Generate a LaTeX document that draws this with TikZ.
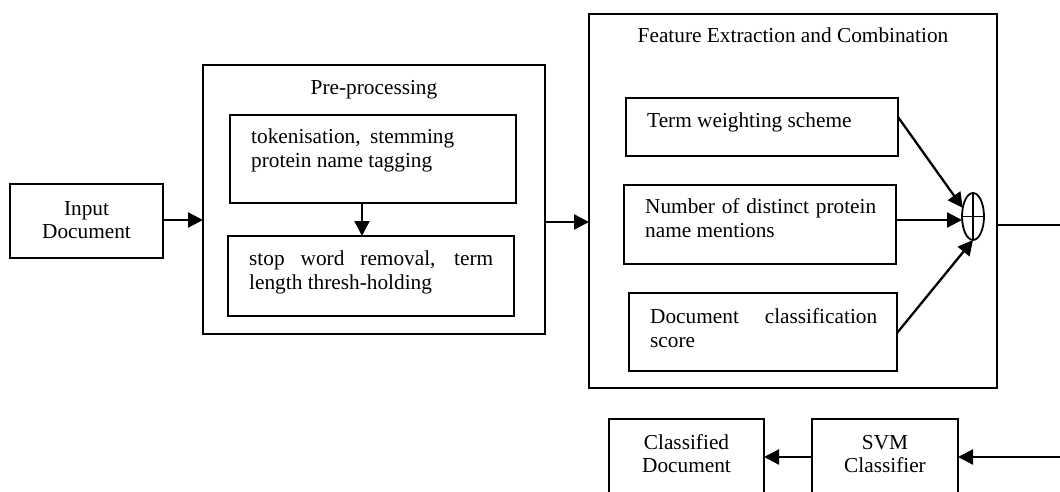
\documentclass[tikz,border=0pt]{standalone}
\usepackage{fontspec}
\setmainfont{Liberation Serif}
\usetikzlibrary{arrows.meta,shapes.geometric}
\begin{document}
\begin{tikzpicture}[x=1pt,y=-1pt,
  box/.style={draw,line width=1.9pt,inner sep=0pt,outer sep=0pt},
  lbl/.style={inner sep=0pt,font=\fontsize{21.3}{24.5}\selectfont,
    execute at begin node={\tolerance=9999\hyphenpenalty=10000\exhyphenpenalty=10000}},
  arr/.style={line width=2.3pt,-{Triangle[length=15pt,width=15pt]}}]
\clip (0,0) rectangle (1060,492);
\fill[white] (0,0) rectangle (1060,492);
% boxes
\node[box,minimum width=153pt,minimum height=74pt] (inp) at (86.5,221) {};
\node[box,minimum width=342pt,minimum height=269pt] (pre) at (374,199.5) {};
\node[box,minimum width=286pt,minimum height=88pt] (tok) at (373,159) {};
\node[box,minimum width=286pt,minimum height=80pt] (stop) at (371,276) {};
\node[box,minimum width=408pt,minimum height=374pt] (feat) at (793,201) {};
\node[box,minimum width=272pt,minimum height=58pt] (term) at (762,127) {};
\node[box,minimum width=272pt,minimum height=79pt] (num) at (760,224.5) {};
\node[box,minimum width=268pt,minimum height=78pt] (doc) at (763,332) {};
\node[draw,ellipse,line width=1.8pt,minimum width=22pt,minimum height=47pt,inner sep=0pt,outer sep=0pt] (sum) at (973,216.5) {};
\draw[line width=1.5pt] (sum.north) -- (sum.south) (sum.west) -- (sum.east);
\node[box,minimum width=155pt,minimum height=111pt] (cls) at (686.5,474.5) {};
\node[box,minimum width=146pt,minimum height=111pt] (svm) at (885,474.5) {};
% texts
\node[lbl,align=center,anchor=base] (tinp) at (86.5,238) {Input\\[-1.5pt]Document};
\node[lbl,anchor=base] (tpre) at (374,95) {Pre-processing};
\node[lbl,anchor=base west,text width=203pt,align=justify] (ttok) at (251,143) {tokenisation, stemming protein name tagging};
\node[lbl,anchor=base west,text width=244pt,align=justify] (tstop) at (249,265) {stop word removal, term length thresh-holding};
\node[lbl,anchor=base] (tfeat) at (793,43) {Feature Extraction and Combination};
\node[lbl,anchor=base west] (tterm) at (647,128) {Term weighting scheme};
\node[lbl,anchor=base west,text width=231pt,align=justify] (tnum) at (645,213) {Number of distinct protein name mentions};
\node[lbl,anchor=base west,text width=227pt,align=justify] (tdoc) at (650,323) {Document classification score};
\node[lbl,align=center,anchor=base] (tcls) at (686.5,472) {Classified\\[-1.5pt]Document};
\node[lbl,align=center,anchor=base] (tsvm) at (885,472) {SVM\\[-1.5pt]Classifier};
% connectors
\draw[arr] ([yshift=1pt]inp.east) -- ([yshift=1pt]inp.east -| pre.west);
\draw[arr] ([xshift=-11pt]tok.south) -- ([xshift=-11pt]tok.south |- stop.north);
\draw[arr] ([yshift=-22.5pt]pre.east) -- ([yshift=-22.5pt]pre.east -| feat.west);
\draw[arr] ([yshift=10pt]term.east) -- (sum.140);
\draw[arr] ([yshift=4.5pt]num.east) -- ([yshift=-3.5pt]sum.west);
\draw[arr] ([yshift=-1pt]doc.east) -- (sum.south);
\coordinate (c1) at (1080,225);
\coordinate (c2) at (1080,457);
\draw[line width=1.3pt] ([yshift=-24pt]feat.east) -- (c1) -- (c2);
\draw[arr] (c2) -- (c2 -| svm.east);
\draw[arr] ([yshift=17.5pt]svm.west) -- ([yshift=17.5pt]cls.east);
\end{tikzpicture}
\end{document}
